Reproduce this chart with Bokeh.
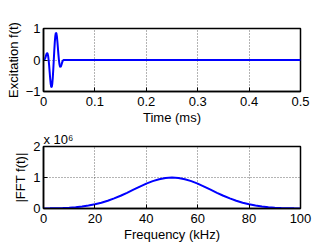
from bokeh.plotting import figure
from bokeh.layouts import column
from bokeh.models import FixedTicker, Range1d
from bokeh.embed import file_html
from bokeh.resources import INLINE

# ---- data ----
time_ms = [0.000, 0.001, 0.002, 0.003, 0.004, 0.005, 0.006, 0.007, 0.008, 0.009,
           0.010, 0.011, 0.012, 0.013, 0.014, 0.015, 0.016, 0.017, 0.018, 0.019,
           0.020, 0.021, 0.022, 0.023, 0.024, 0.025, 0.026, 0.027, 0.028, 0.029,
           0.030, 0.031, 0.032, 0.033, 0.034, 0.035, 0.036, 0.037, 0.038, 0.039,
           0.040, 0.500]
excitation = [0.0, 0.002, 0.014, 0.044, 0.091, 0.146, 0.196, 0.221, 0.203, 0.130,
              0.0, -0.179, -0.385, -0.588, -0.755, -0.854, -0.861, -0.765, -0.574, -0.307,
              0.0, 0.307, 0.574, 0.765, 0.861, 0.854, 0.755, 0.588, 0.385, 0.179,
              0.0, -0.130, -0.203, -0.221, -0.196, -0.146, -0.091, -0.044, -0.014, -0.002,
              0.0, 0.0]

freq_khz = [0, 2.5, 5, 7.5, 10, 12.5, 15, 17.5, 20, 22.5, 25, 27.5, 30, 32.5, 35, 37.5,
            40, 42.5, 45, 47.5, 50, 52.5, 55, 57.5, 60, 62.5, 65, 67.5, 70, 72.5, 75,
            77.5, 80, 82.5, 85, 87.5, 90, 92.5, 95, 97.5, 100]
fft_mag_1e6 = [0.004, 0.007, 0.011, 0.018, 0.028, 0.044, 0.066, 0.096, 0.135, 0.186,
               0.249, 0.325, 0.411, 0.506, 0.607, 0.707, 0.801, 0.882, 0.946, 0.986,
               1.0, 0.986, 0.946, 0.882, 0.801, 0.707, 0.607, 0.506, 0.411, 0.325,
               0.249, 0.186, 0.135, 0.096, 0.066, 0.044, 0.028, 0.018, 0.011, 0.007, 0.004]

time_ticks = [0, 0.1, 0.2, 0.3, 0.4, 0.5]
time_tick_labels = ["0", "0.1", "0.2", "0.3", "0.4", "0.5"]
exc_ticks = [-1, 0, 1]
exc_tick_labels = ["\u22121", "0", "1"]
freq_ticks = [0, 20, 40, 60, 80, 100]
freq_tick_labels = ["0", "20", "40", "60", "80", "100"]
fft_ticks = [0, 1, 2]
fft_tick_labels = ["0", "1", "2"]
fft_scale_label = "x 10\u2076"

FONT = "Liberation Sans"
FS = "13px"
BLUE = "#0000ff"


def style(p, xt, xl, yt, yl, xlabel, ylabel):
    p.outline_line_color = "black"
    p.outline_line_width = 1.5
    p.background_fill_color = "white"
    p.border_fill_color = "white"
    for ax, ticks, labels, lab in ((p.xaxis[0], xt, xl, xlabel), (p.yaxis[0], yt, yl, ylabel)):
        ax.ticker = FixedTicker(ticks=ticks)
        ax.major_label_overrides = {t: s for t, s in zip(ticks, labels)}
        ax.axis_label = lab
        ax.axis_label_text_font = FONT
        ax.axis_label_text_font_size = FS
        ax.axis_label_text_font_style = "normal"
        ax.axis_label_text_color = "black"
        ax.major_label_text_font = FONT
        ax.major_label_text_font_size = FS
        ax.major_label_text_color = "black"
        ax.major_tick_in = 4
        ax.major_tick_out = 0
        ax.minor_tick_line_color = None
        ax.axis_line_color = "black"
        ax.axis_line_width = 1.5
        ax.major_tick_line_color = "black"
    p.xaxis[0].major_label_standoff = 5
    p.xaxis[0].axis_label_standoff = 1
    p.yaxis[0].major_label_standoff = 3
    p.yaxis[0].axis_label_standoff = 2
    for g in (p.xgrid[0], p.ygrid[0]):
        g.grid_line_color = "#444444"
        g.grid_line_dash = "1 2"
        g.grid_line_width = 1
        g.grid_line_alpha = 0.8
    p.xgrid[0].ticker = FixedTicker(ticks=xt)
    p.ygrid[0].ticker = FixedTicker(ticks=yt)


p1 = figure(output_backend="svg", toolbar_location=None,
            frame_width=257, frame_height=63,
            min_border_left=43, min_border_top=28, min_border_right=25, min_border_bottom=37,
            x_range=Range1d(0, 0.5), y_range=Range1d(-1, 1))
p1.line(time_ms, excitation, line_color=BLUE, line_width=2)
style(p1, time_ticks, time_tick_labels, exc_ticks, exc_tick_labels, "Time (ms)", "Excitation f(t)")

p2 = figure(output_backend="svg", toolbar_location=None,
            frame_width=257, frame_height=62,
            min_border_left=43, min_border_top=18, min_border_right=25, min_border_bottom=33,
            x_range=Range1d(0, 100), y_range=Range1d(0, 2))
p2.line(freq_khz, fft_mag_1e6, line_color=BLUE, line_width=2)
style(p2, freq_ticks, freq_tick_labels, fft_ticks, fft_tick_labels, "Frequency (kHz)", "|FFT f(t)|")

p2.title.text = fft_scale_label
p2.title.align = "left"
p2.title.offset = 0
p2.title.standoff = 0
p2.title.text_font = FONT
p2.title.text_font_size = FS
p2.title.text_font_style = "normal"
p2.title.text_color = "black"

layout = column(p1, p2, spacing=0)
open("out.html", "w").write(file_html(layout, INLINE))
